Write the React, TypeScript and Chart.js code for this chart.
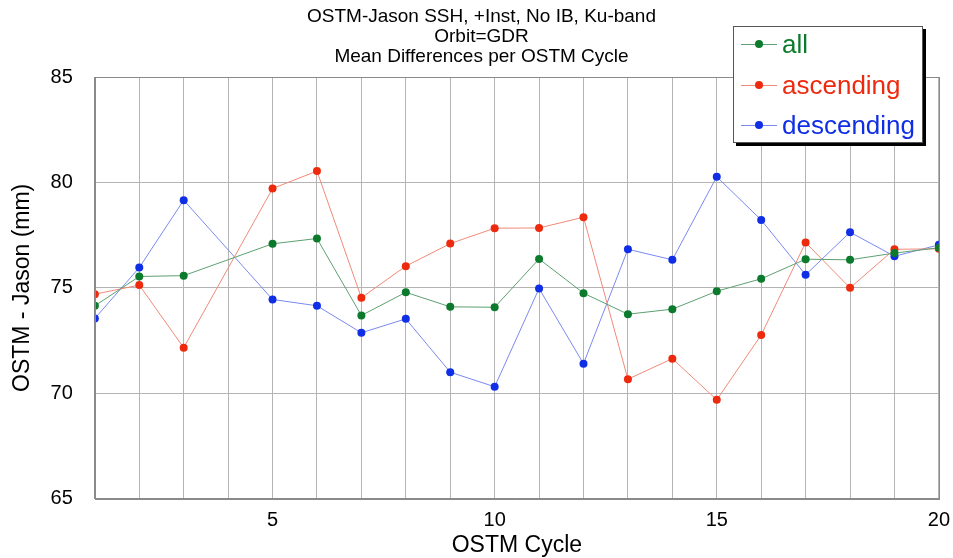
import React, { useEffect, useRef } from "react";
import { Chart, registerables } from "chart.js";

Chart.register(...registerables);

const cycles = [1, 2, 3, 4, 5, 6, 7, 8, 9, 10, 11, 12, 13, 14, 15, 16, 17, 18, 19, 20];
const allValues = [74.15, 75.54, 75.58, null, 77.09, 77.34, 73.69, 74.79, 74.1, 74.08, 76.37, 74.75, 73.75, 73.99, 74.84, 75.43, 76.36, 76.33, 76.65, 76.9];
const ascendingValues = [74.7, 75.13, 72.16, null, 79.71, 80.54, 74.53, 76.03, 77.1, 77.83, 77.84, 78.35, 70.67, 71.64, 69.69, 72.76, 77.15, 75.0, 76.83, 76.85];
const descendingValues = [73.55, 75.96, 79.16, null, 74.45, 74.15, 72.87, 73.53, 71.0, 70.31, 74.97, 71.4, 76.83, 76.33, 80.27, 78.22, 75.62, 77.64, 76.5, 77.04];
const titleLines = ["OSTM-Jason SSH, +Inst, No IB, Ku-band", "Orbit=GDR", "Mean Differences per OSTM Cycle"];
const xTitle = "OSTM Cycle";
const yTitle = "OSTM - Jason (mm)";
const yMin = 65;
const yMax = 85;

const FONT = "'Liberation Sans', Arial, Helvetica, sans-serif";

const series = [
  { label: "all", values: allValues, point: "#0b7a2c", line: "#5ea070", text: "#0b7a2c" },
  { label: "ascending", values: ascendingValues, point: "#ee2a0e", line: "#f08a78", text: "#ee2a0e" },
  { label: "descending", values: descendingValues, point: "#0f2ee6", line: "#7a8af0", text: "#0f2ee6" },
];

const frame = {
  id: "frame",
  afterDraw(chart: any) {
    const { ctx, chartArea } = chart;
    ctx.save();
    ctx.strokeStyle = "#8a8a8a";
    ctx.lineWidth = 1;
    ctx.strokeRect(
      Math.round(chartArea.left) + 0.5,
      Math.round(chartArea.top) + 0.5,
      Math.round(chartArea.right - chartArea.left),
      Math.round(chartArea.bottom - chartArea.top)
    );
    ctx.restore();
  },
};

export default function App() {
  const ref = useRef<HTMLCanvasElement | null>(null);

  useEffect(() => {
    if (!ref.current) return;
    const chart = new Chart(ref.current, {
      type: "line",
      data: {
        labels: cycles,
        datasets: series.map((s) => ({
          label: s.label,
          data: cycles.map((c, i) => ({ x: c, y: s.values[i] })),
          borderColor: s.line,
          backgroundColor: s.point,
          pointBackgroundColor: s.point,
          pointBorderColor: s.point,
          pointRadius: 4,
          pointBorderWidth: 0,
          borderWidth: 1,
          spanGaps: true,
          tension: 0,
        })),
      },
      options: {
        animation: false,
        responsive: false,
        layout: { padding: { left: 9, right: 6, top: 0, bottom: 0 } },
        plugins: {
          legend: { display: false },
          tooltip: { enabled: false },
          title: {
            display: true,
            text: titleLines,
            color: "#000",
            font: { family: FONT, size: 19, weight: "normal", lineHeight: 1.053 },
            padding: { top: 7, bottom: 10 },
          },
        },
        scales: {
          x: {
            type: "linear",
            min: 1,
            max: 20,
            grid: { color: "#b4b4b4", lineWidth: 1, drawTicks: false },
            border: { display: true, color: "#8a8a8a" },
            ticks: {
              stepSize: 1,
              autoSkip: false,
              maxRotation: 0,
              padding: 10,
              color: "#000",
              font: { family: FONT, size: 20 },
              callback: (v: any) => (Number(v) % 5 === 0 ? String(v) : ""),
            },
            title: {
              display: true,
              text: xTitle,
              color: "#000",
              font: { family: FONT, size: 23, lineHeight: 1.1 },
              padding: { top: -10, bottom: 0 },
            },
          },
          y: {
            min: yMin,
            max: yMax,
            grid: { color: "#b4b4b4", lineWidth: 1, drawTicks: false },
            border: { display: true, color: "#8a8a8a" },
            ticks: {
              stepSize: 5,
              padding: 22,
              color: "#000",
              font: { family: FONT, size: 20 },
            },
            title: {
              display: true,
              text: yTitle,
              color: "#000",
              font: { family: FONT, size: 23, lineHeight: 1.2 },
              padding: { top: 0, bottom: -8 },
            },
          },
        },
      },
      plugins: [frame],
    });
    return () => chart.destroy();
  }, []);

  return (
    <div style={{ position: "fixed", left: 0, top: 0, width: 953, height: 558, background: "#fff", overflow: "hidden" }}>
      <canvas ref={ref} width={960} height={558} style={{ display: "block" }} />
      <div
        style={{
          position: "absolute",
          left: 733,
          top: 26,
          width: 188,
          height: 115,
          background: "#fff",
          border: "1px solid #555",
          boxShadow: "3px 3px 0 #000",
          fontFamily: FONT,
          fontSize: 26,
        }}
      >
        {series.map((s, i) => (
          <div key={s.label} style={{ position: "absolute", left: 0, top: 3 + i * 40.5, height: 30, width: 188 }}>
            <div style={{ position: "absolute", left: 7, top: 14, width: 36, height: 1, background: s.line }} />
            <div
              style={{
                position: "absolute",
                left: 21,
                top: 10,
                width: 8,
                height: 8,
                borderRadius: 4,
                background: s.point,
              }}
            />
            <div style={{ position: "absolute", left: 48, top: 0, color: s.text, lineHeight: "28px", whiteSpace: "nowrap" }}>
              {s.label}
            </div>
          </div>
        ))}
      </div>
    </div>
  );
}
